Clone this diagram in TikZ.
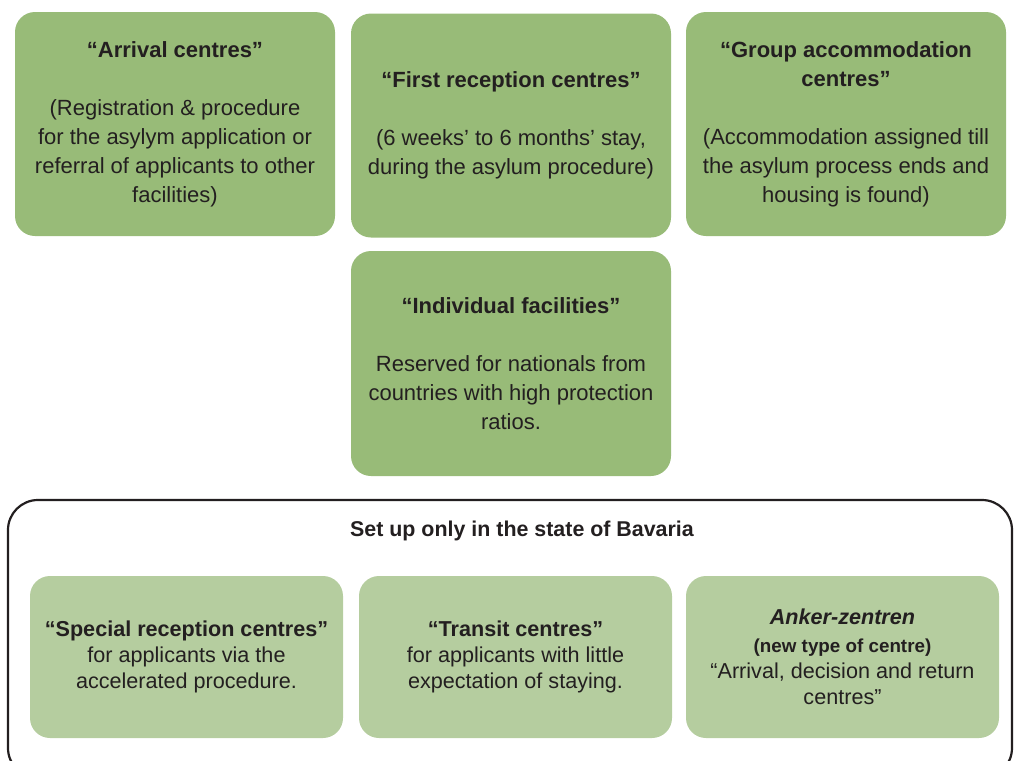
\documentclass[tikz,border=0pt]{standalone}
\usepackage{fontspec}
\setmainfont{Liberation Sans}
\usetikzlibrary{calc}
\definecolor{boxgreen}{HTML}{98BB78}
\definecolor{palegreen}{HTML}{B5CD9F}
\definecolor{inkgray}{HTML}{231F20}
\tikzset{
  centre/.style={shape=rectangle, rounded corners=10pt, fill=boxgreen, text=inkgray,
    align=center, inner sep=0pt, minimum width=160pt, minimum height=112pt,
    font=\fontsize{11}{14.5}\selectfont},
  bavbox/.style={centre, fill=palegreen, minimum width=156.5pt, minimum height=81pt,
    font=\fontsize{10.8}{13}\selectfont}
}
\newcommand{\boxtitle}[1]{\textbf{#1}}

\begin{document}
\begin{tikzpicture}[x=0.5pt,y=-0.5pt]
\useasboundingbox (0,0) rectangle (1014,761);
\clip (0,0) rectangle (1014,761);
%frame
\draw[line width=1.1pt, inkgray, rounded corners=15pt] (8,500) rectangle (1012,778);

%top boxes
\node[centre] (arrival) at (175,124) {\boxtitle{“Arrival centres”}\\[14.5pt]
  (Registration \& procedure\\ for the asylym application or\\ referral of applicants to other\\ facilities)};
\node[centre] (first) at (511,125.5) {\boxtitle{“First reception centres”}\\[14.5pt]
  (6 weeks’ to 6 months’ stay,\\ during the asylum procedure)};
\node[centre] (group) at (846,124) {\boxtitle{“Group accommodation}\\ \boxtitle{centres”}\\[14.5pt]
  (Accommodation assigned till\\ the asylum process ends and\\ housing is found)};
\node[centre, minimum height=112.5pt] (indiv) at (511,363.5) {\boxtitle{“Individual facilities”}\\[14.5pt]
  Reserved for nationals from\\ countries with high protection\\ ratios.};

%bavaria
\node[text=inkgray, font=\fontsize{10.7}{13}\selectfont\bfseries] (setup) at (522,531) {Set up only in the state of Bavaria};
\node[bavbox] (special) at (186.5,657) {\boxtitle{“Special reception centres”}\\
  for applicants via the\\ accelerated procedure.};
\node[bavbox] (transit) at (515.5,657) {\boxtitle{“Transit centres”}\\
  for applicants with little\\ expectation of staying.};
\node[bavbox] (anker) at (842.5,657) {\textbf{\textit{Anker-zentren}}\\[1pt]
  {\fontsize{9.4}{13}\selectfont\bfseries (new type of centre)}\\
  “Arrival, decision and return\\ centres”};
\end{tikzpicture}
\end{document}
